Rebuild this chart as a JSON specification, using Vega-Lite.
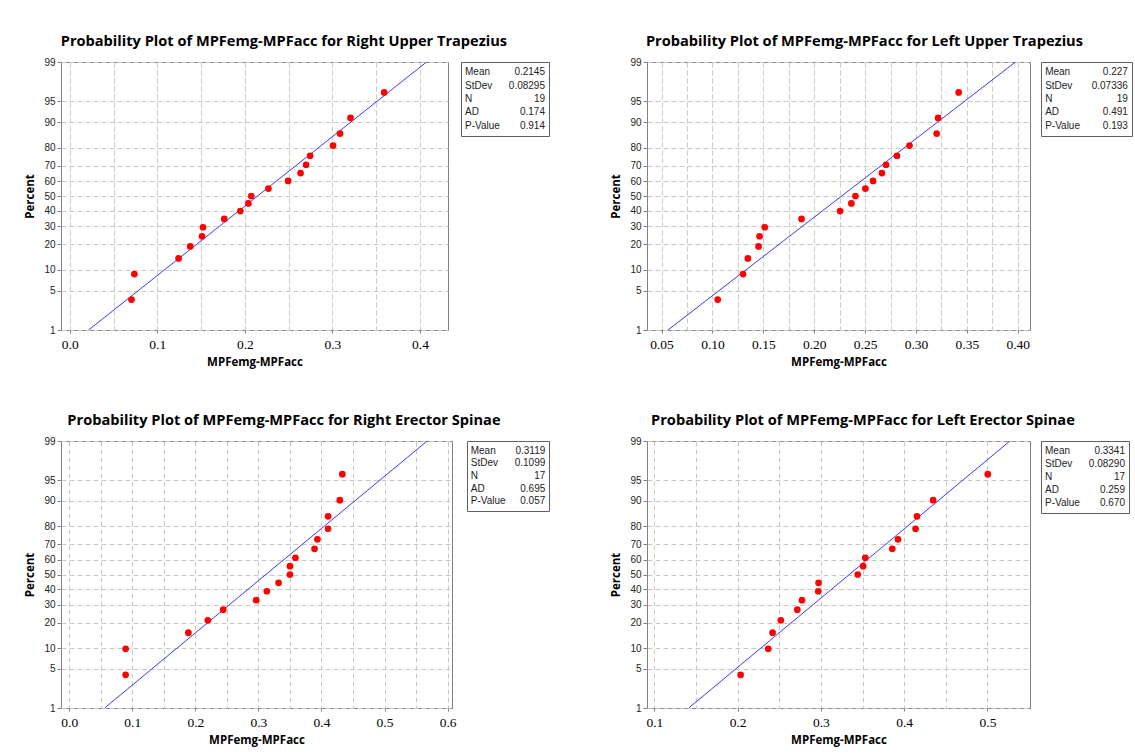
{
  "$schema": "https://vega.github.io/schema/vega-lite/v6.json",
  "background": "white",
  "padding": {"left": 24, "top": 33, "right": 0, "bottom": 0},
  "datasets": {
    "pts": [
      {"panel": "RUT", "diff": 0.0705, "pct": 3.61, "z": -1.7985},
      {"panel": "RUT", "diff": 0.0738, "pct": 8.76, "z": -1.3555},
      {"panel": "RUT", "diff": 0.1243, "pct": 13.92, "z": -1.0840},
      {"panel": "RUT", "diff": 0.1376, "pct": 19.07, "z": -0.8753},
      {"panel": "RUT", "diff": 0.1510, "pct": 24.23, "z": -0.6990},
      {"panel": "RUT", "diff": 0.1522, "pct": 29.38, "z": -0.5423},
      {"panel": "RUT", "diff": 0.1764, "pct": 34.54, "z": -0.3979},
      {"panel": "RUT", "diff": 0.1948, "pct": 39.69, "z": -0.2614},
      {"panel": "RUT", "diff": 0.2040, "pct": 44.85, "z": -0.1296},
      {"panel": "RUT", "diff": 0.2073, "pct": 50.0, "z": 0},
      {"panel": "RUT", "diff": 0.2269, "pct": 55.15, "z": 0.1296},
      {"panel": "RUT", "diff": 0.2494, "pct": 60.31, "z": 0.2614},
      {"panel": "RUT", "diff": 0.2636, "pct": 65.46, "z": 0.3979},
      {"panel": "RUT", "diff": 0.2699, "pct": 70.62, "z": 0.5423},
      {"panel": "RUT", "diff": 0.2745, "pct": 75.77, "z": 0.6990},
      {"panel": "RUT", "diff": 0.3007, "pct": 80.93, "z": 0.8753},
      {"panel": "RUT", "diff": 0.3087, "pct": 86.08, "z": 1.0840},
      {"panel": "RUT", "diff": 0.3207, "pct": 91.24, "z": 1.3555},
      {"panel": "RUT", "diff": 0.3591, "pct": 96.39, "z": 1.7985},
      {"panel": "LUT", "diff": 0.1052, "pct": 3.61, "z": -1.7985},
      {"panel": "LUT", "diff": 0.1301, "pct": 8.76, "z": -1.3555},
      {"panel": "LUT", "diff": 0.1348, "pct": 13.92, "z": -1.0840},
      {"panel": "LUT", "diff": 0.1453, "pct": 19.07, "z": -0.8753},
      {"panel": "LUT", "diff": 0.1463, "pct": 24.23, "z": -0.6990},
      {"panel": "LUT", "diff": 0.1514, "pct": 29.38, "z": -0.5423},
      {"panel": "LUT", "diff": 0.1875, "pct": 34.54, "z": -0.3979},
      {"panel": "LUT", "diff": 0.2254, "pct": 39.69, "z": -0.2614},
      {"panel": "LUT", "diff": 0.2365, "pct": 44.85, "z": -0.1296},
      {"panel": "LUT", "diff": 0.2405, "pct": 50.0, "z": 0},
      {"panel": "LUT", "diff": 0.2503, "pct": 55.15, "z": 0.1296},
      {"panel": "LUT", "diff": 0.2578, "pct": 60.31, "z": 0.2614},
      {"panel": "LUT", "diff": 0.2665, "pct": 65.46, "z": 0.3979},
      {"panel": "LUT", "diff": 0.2705, "pct": 70.62, "z": 0.5423},
      {"panel": "LUT", "diff": 0.2813, "pct": 75.77, "z": 0.6990},
      {"panel": "LUT", "diff": 0.2936, "pct": 80.93, "z": 0.8753},
      {"panel": "LUT", "diff": 0.3203, "pct": 86.08, "z": 1.0840},
      {"panel": "LUT", "diff": 0.3217, "pct": 91.24, "z": 1.3555},
      {"panel": "LUT", "diff": 0.3419, "pct": 96.39, "z": 1.7985},
      {"panel": "RES", "diff": 0.0895, "pct": 4.02, "z": -1.7480},
      {"panel": "RES", "diff": 0.0895, "pct": 9.77, "z": -1.2948},
      {"panel": "RES", "diff": 0.1890, "pct": 15.52, "z": -1.0145},
      {"panel": "RES", "diff": 0.2198, "pct": 21.26, "z": -0.7973},
      {"panel": "RES", "diff": 0.2442, "pct": 27.01, "z": -0.6125},
      {"panel": "RES", "diff": 0.2965, "pct": 32.76, "z": -0.4466},
      {"panel": "RES", "diff": 0.3134, "pct": 38.51, "z": -0.2922},
      {"panel": "RES", "diff": 0.3320, "pct": 44.25, "z": -0.1446},
      {"panel": "RES", "diff": 0.3500, "pct": 50.0, "z": 0},
      {"panel": "RES", "diff": 0.3500, "pct": 55.75, "z": 0.1446},
      {"panel": "RES", "diff": 0.3587, "pct": 61.49, "z": 0.2922},
      {"panel": "RES", "diff": 0.3890, "pct": 67.24, "z": 0.4466},
      {"panel": "RES", "diff": 0.3936, "pct": 72.99, "z": 0.6125},
      {"panel": "RES", "diff": 0.4105, "pct": 78.74, "z": 0.7973},
      {"panel": "RES", "diff": 0.4105, "pct": 84.48, "z": 1.0145},
      {"panel": "RES", "diff": 0.4291, "pct": 90.23, "z": 1.2948},
      {"panel": "RES", "diff": 0.4331, "pct": 95.98, "z": 1.7480},
      {"panel": "LES", "diff": 0.2036, "pct": 4.02, "z": -1.7480},
      {"panel": "LES", "diff": 0.2368, "pct": 9.77, "z": -1.2948},
      {"panel": "LES", "diff": 0.2420, "pct": 15.52, "z": -1.0145},
      {"panel": "LES", "diff": 0.2519, "pct": 21.26, "z": -0.7973},
      {"panel": "LES", "diff": 0.2717, "pct": 27.01, "z": -0.6125},
      {"panel": "LES", "diff": 0.2773, "pct": 32.76, "z": -0.4466},
      {"panel": "LES", "diff": 0.2968, "pct": 38.51, "z": -0.2922},
      {"panel": "LES", "diff": 0.2972, "pct": 44.25, "z": -0.1446},
      {"panel": "LES", "diff": 0.3442, "pct": 50.0, "z": 0},
      {"panel": "LES", "diff": 0.3507, "pct": 55.75, "z": 0.1446},
      {"panel": "LES", "diff": 0.3533, "pct": 61.49, "z": 0.2922},
      {"panel": "LES", "diff": 0.3857, "pct": 67.24, "z": 0.4466},
      {"panel": "LES", "diff": 0.3926, "pct": 72.99, "z": 0.6125},
      {"panel": "LES", "diff": 0.4137, "pct": 78.74, "z": 0.7973},
      {"panel": "LES", "diff": 0.4154, "pct": 84.48, "z": 1.0145},
      {"panel": "LES", "diff": 0.4348, "pct": 90.23, "z": 1.2948},
      {"panel": "LES", "diff": 0.5004, "pct": 95.98, "z": 1.7480}
    ],
    "fit": [
      {"panel": "RUT", "diff": 0.0215, "pct": 1, "z": -2.326348},
      {"panel": "RUT", "diff": 0.4075, "pct": 99, "z": 2.326348},
      {"panel": "LUT", "diff": 0.0563, "pct": 1, "z": -2.326348},
      {"panel": "LUT", "diff": 0.3977, "pct": 99, "z": 2.326348},
      {"panel": "RES", "diff": 0.0562, "pct": 1, "z": -2.326348},
      {"panel": "RES", "diff": 0.5676, "pct": 99, "z": 2.326348},
      {"panel": "LES", "diff": 0.1413, "pct": 1, "z": -2.326348},
      {"panel": "LES", "diff": 0.5270, "pct": 99, "z": 2.326348}
    ],
    "stats": [
      {"panel": "RUT", "i": 1, "label": "Mean", "value": "0.2145"},
      {"panel": "RUT", "i": 2, "label": "StDev", "value": "0.08295"},
      {"panel": "RUT", "i": 3, "label": "N", "value": "19"},
      {"panel": "RUT", "i": 4, "label": "AD", "value": "0.174"},
      {"panel": "RUT", "i": 5, "label": "P-Value", "value": "0.914"},
      {"panel": "LUT", "i": 1, "label": "Mean", "value": "0.227"},
      {"panel": "LUT", "i": 2, "label": "StDev", "value": "0.07336"},
      {"panel": "LUT", "i": 3, "label": "N", "value": "19"},
      {"panel": "LUT", "i": 4, "label": "AD", "value": "0.491"},
      {"panel": "LUT", "i": 5, "label": "P-Value", "value": "0.193"},
      {"panel": "RES", "i": 1, "label": "Mean", "value": "0.3119"},
      {"panel": "RES", "i": 2, "label": "StDev", "value": "0.1099"},
      {"panel": "RES", "i": 3, "label": "N", "value": "17"},
      {"panel": "RES", "i": 4, "label": "AD", "value": "0.695"},
      {"panel": "RES", "i": 5, "label": "P-Value", "value": "0.057"},
      {"panel": "LES", "i": 1, "label": "Mean", "value": "0.3341"},
      {"panel": "LES", "i": 2, "label": "StDev", "value": "0.08290"},
      {"panel": "LES", "i": 3, "label": "N", "value": "17"},
      {"panel": "LES", "i": 4, "label": "AD", "value": "0.259"},
      {"panel": "LES", "i": 5, "label": "P-Value", "value": "0.670"}
    ]
  },
  "config": {
    "view": {"stroke": "#808080", "strokeWidth": 1},
    "axis": {
      "grid": true, "gridColor": "#c8c8c8", "gridDash": [5, 3], "gridWidth": 1,
      "domain": false, "tickColor": "#808080", "labelColor": "#000000", "titleColor": "#000000",
      "titleFont": "Open Sans", "titleFontWeight": "bold", "titleFontSize": 11.5,
      "labelFlush": false, "labelOverlap": false
    },
    "axisX": {"labelFont": "Liberation Serif", "labelFontSize": 13.5, "labelPadding": 4, "titlePadding": 6, "tickSize": 3},
    "axisY": {"labelFont": "Liberation Sans", "labelFontSize": 10, "labelColor": "#222222", "labelPadding": 2, "titlePadding": 8, "tickSize": 4},
    "title": {"font": "Open Sans", "fontSize": 14.6, "fontWeight": "bold", "color": "#000000", "anchor": "middle", "offset": 8},
    "text": {"font": "Liberation Sans", "fontSize": 10, "color": "#222222"}
  },
  "spacing": 43,
  "vconcat": [
    {
      "spacing": 60,
      "hconcat": [
        {
          "title": {"text": "Probability Plot of MPFemg-MPFacc for Right Upper Trapezius", "dx": -3},
          "spacing": 11,
          "hconcat": [
            {
              "width": 387, "height": 268,
              "layer": [
                {
                  "data": {"name": "fit"},
                  "transform": [{"filter": "datum.panel === 'RUT'"}],
                  "mark": {"type": "line", "color": "#3a3aff", "strokeWidth": 1, "clip": true},
                  "encoding": {
                    "x": {"field": "diff", "type": "quantitative", "title": "MPFemg-MPFacc",
                      "scale": {"domain": [-0.010, 0.432], "nice": false, "zero": false},
                      "axis": {"tickCount": 50, "values": [0, 0.05, 0.1, 0.15, 0.2, 0.25, 0.3, 0.35, 0.4],
                        "labelExpr": "abs(datum.value*10-round(datum.value*10))<0.001 ? format(datum.value,'.1f') : ''",
                        "tickOpacity": {"condition": {"test": "abs(datum.value*10-round(datum.value*10))<0.001", "value": 1}, "value": 0}}},
                    "y": {"field": "z", "type": "quantitative", "title": "Percent",
                      "scale": {"domain": [-2.326348, 2.326348], "nice": false, "zero": false},
                      "axis": {"tickCount": 50, "values": [-2.326348, -1.644854, -1.281552, -0.841621, -0.524401, -0.253347, 0, 0.253347, 0.524401, 0.841621, 1.281552, 1.644854, 2.326348],
                        "labelExpr": "format(cumulativeNormal(datum.value)*100,'.0f')"}}
                  }
                },
                {
                  "data": {"name": "pts"},
                  "transform": [{"filter": "datum.panel === 'RUT'"}],
                  "mark": {"type": "circle", "size": 45, "color": "#ff0000", "opacity": 1},
                  "encoding": {
                    "x": {"field": "diff", "type": "quantitative", "title": "MPFemg-MPFacc"},
                    "y": {"field": "z", "type": "quantitative", "title": "Percent"}
                  }
                }
              ]
            },
            {
              "width": 88, "height": 74,
              "view": {"stroke": "#606060"},
              "data": {"name": "stats"},
              "transform": [{"filter": "datum.panel === 'RUT'"}],
              "encoding": {"y": {"field": "i", "type": "ordinal", "axis": null, "scale": {"type": "point", "padding": 0.75}}},
              "layer": [
                {"mark": {"type": "text", "align": "left", "baseline": "middle"},
                 "encoding": {"x": {"datum": 0, "type": "quantitative", "axis": null, "scale": {"domain": [-0.05, 1.05], "nice": false, "zero": false}}, "text": {"field": "label"}}},
                {"mark": {"type": "text", "align": "right", "baseline": "middle"},
                 "encoding": {"x": {"datum": 1, "type": "quantitative", "axis": null}, "text": {"field": "value"}}}
              ]
            }
          ]
        },
        {
          "title": {"text": "Probability Plot of MPFemg-MPFacc for Left Upper Trapezius", "dx": -7},
          "spacing": 9,
          "hconcat": [
            {
              "width": 383, "height": 268,
              "layer": [
                {
                  "data": {"name": "fit"},
                  "transform": [{"filter": "datum.panel === 'LUT'"}],
                  "mark": {"type": "line", "color": "#3a3aff", "strokeWidth": 1, "clip": true},
                  "encoding": {
                    "x": {"field": "diff", "type": "quantitative", "title": "MPFemg-MPFacc",
                      "scale": {"domain": [0.0357, 0.412], "nice": false, "zero": false},
                      "axis": {"tickCount": 50, "values": [0.05, 0.075, 0.1, 0.125, 0.15, 0.175, 0.2, 0.225, 0.25, 0.275, 0.3, 0.325, 0.35, 0.375, 0.4],
                        "labelExpr": "abs(datum.value*20-round(datum.value*20))<0.001 ? format(datum.value,'.2f') : ''",
                        "tickOpacity": {"condition": {"test": "abs(datum.value*20-round(datum.value*20))<0.001", "value": 1}, "value": 0}}},
                    "y": {"field": "z", "type": "quantitative", "title": "Percent",
                      "scale": {"domain": [-2.326348, 2.326348], "nice": false, "zero": false},
                      "axis": {"tickCount": 50, "values": [-2.326348, -1.644854, -1.281552, -0.841621, -0.524401, -0.253347, 0, 0.253347, 0.524401, 0.841621, 1.281552, 1.644854, 2.326348],
                        "labelExpr": "format(cumulativeNormal(datum.value)*100,'.0f')"}}
                  }
                },
                {
                  "data": {"name": "pts"},
                  "transform": [{"filter": "datum.panel === 'LUT'"}],
                  "mark": {"type": "circle", "size": 45, "color": "#ff0000", "opacity": 1},
                  "encoding": {
                    "x": {"field": "diff", "type": "quantitative", "title": "MPFemg-MPFacc"},
                    "y": {"field": "z", "type": "quantitative", "title": "Percent"}
                  }
                }
              ]
            },
            {
              "width": 91, "height": 74,
              "view": {"stroke": "#606060"},
              "data": {"name": "stats"},
              "transform": [{"filter": "datum.panel === 'LUT'"}],
              "encoding": {"y": {"field": "i", "type": "ordinal", "axis": null, "scale": {"type": "point", "padding": 0.75}}},
              "layer": [
                {"mark": {"type": "text", "align": "left", "baseline": "middle"},
                 "encoding": {"x": {"datum": 0, "type": "quantitative", "axis": null, "scale": {"domain": [-0.05, 1.05], "nice": false, "zero": false}}, "text": {"field": "label"}}},
                {"mark": {"type": "text", "align": "right", "baseline": "middle"},
                 "encoding": {"x": {"datum": 1, "type": "quantitative", "axis": null}, "text": {"field": "value"}}}
              ]
            }
          ]
        }
      ]
    },
    {
      "spacing": 60,
      "hconcat": [
        {
          "title": {"text": "Probability Plot of MPFemg-MPFacc for Right Erector Spinae", "dx": -3},
          "spacing": 9,
          "hconcat": [
            {
              "width": 391, "height": 267,
              "layer": [
                {
                  "data": {"name": "fit"},
                  "transform": [{"filter": "datum.panel === 'RES'"}],
                  "mark": {"type": "line", "color": "#3a3aff", "strokeWidth": 1, "clip": true},
                  "encoding": {
                    "x": {"field": "diff", "type": "quantitative", "title": "MPFemg-MPFacc",
                      "scale": {"domain": [-0.013, 0.607], "nice": false, "zero": false},
                      "axis": {"tickCount": 50, "values": [0, 0.05, 0.1, 0.15, 0.2, 0.25, 0.3, 0.35, 0.4, 0.45, 0.5, 0.55, 0.6],
                        "labelExpr": "abs(datum.value*10-round(datum.value*10))<0.001 ? format(datum.value,'.1f') : ''",
                        "tickOpacity": {"condition": {"test": "abs(datum.value*10-round(datum.value*10))<0.001", "value": 1}, "value": 0}}},
                    "y": {"field": "z", "type": "quantitative", "title": "Percent",
                      "scale": {"domain": [-2.326348, 2.326348], "nice": false, "zero": false},
                      "axis": {"tickCount": 50, "values": [-2.326348, -1.644854, -1.281552, -0.841621, -0.524401, -0.253347, 0, 0.253347, 0.524401, 0.841621, 1.281552, 1.644854, 2.326348],
                        "labelExpr": "format(cumulativeNormal(datum.value)*100,'.0f')"}}
                  }
                },
                {
                  "data": {"name": "pts"},
                  "transform": [{"filter": "datum.panel === 'RES'"}],
                  "mark": {"type": "circle", "size": 45, "color": "#ff0000", "opacity": 1},
                  "encoding": {
                    "x": {"field": "diff", "type": "quantitative", "title": "MPFemg-MPFacc"},
                    "y": {"field": "z", "type": "quantitative", "title": "Percent"}
                  }
                }
              ]
            },
            {
              "width": 82, "height": 70,
              "view": {"stroke": "#606060"},
              "data": {"name": "stats"},
              "transform": [{"filter": "datum.panel === 'RES'"}],
              "encoding": {"y": {"field": "i", "type": "ordinal", "axis": null, "scale": {"type": "point", "padding": 0.75}}},
              "layer": [
                {"mark": {"type": "text", "align": "left", "baseline": "middle"},
                 "encoding": {"x": {"datum": 0, "type": "quantitative", "axis": null, "scale": {"domain": [-0.05, 1.05], "nice": false, "zero": false}}, "text": {"field": "label"}}},
                {"mark": {"type": "text", "align": "right", "baseline": "middle"},
                 "encoding": {"x": {"datum": 1, "type": "quantitative", "axis": null}, "text": {"field": "value"}}}
              ]
            }
          ]
        },
        {
          "title": {"text": "Probability Plot of MPFemg-MPFacc for Left Erector Spinae", "dx": -7},
          "spacing": 9,
          "hconcat": [
            {
              "width": 383, "height": 267,
              "layer": [
                {
                  "data": {"name": "fit"},
                  "transform": [{"filter": "datum.panel === 'LES'"}],
                  "mark": {"type": "line", "color": "#3a3aff", "strokeWidth": 1, "clip": true},
                  "encoding": {
                    "x": {"field": "diff", "type": "quantitative", "title": "MPFemg-MPFacc",
                      "scale": {"domain": [0.0912, 0.5511], "nice": false, "zero": false},
                      "axis": {"tickCount": 50, "values": [0.1, 0.15, 0.2, 0.25, 0.3, 0.35, 0.4, 0.45, 0.5],
                        "labelExpr": "abs(datum.value*10-round(datum.value*10))<0.001 ? format(datum.value,'.1f') : ''",
                        "tickOpacity": {"condition": {"test": "abs(datum.value*10-round(datum.value*10))<0.001", "value": 1}, "value": 0}}},
                    "y": {"field": "z", "type": "quantitative", "title": "Percent",
                      "scale": {"domain": [-2.326348, 2.326348], "nice": false, "zero": false},
                      "axis": {"tickCount": 50, "values": [-2.326348, -1.644854, -1.281552, -0.841621, -0.524401, -0.253347, 0, 0.253347, 0.524401, 0.841621, 1.281552, 1.644854, 2.326348],
                        "labelExpr": "format(cumulativeNormal(datum.value)*100,'.0f')"}}
                  }
                },
                {
                  "data": {"name": "pts"},
                  "transform": [{"filter": "datum.panel === 'LES'"}],
                  "mark": {"type": "circle", "size": 45, "color": "#ff0000", "opacity": 1},
                  "encoding": {
                    "x": {"field": "diff", "type": "quantitative", "title": "MPFemg-MPFacc"},
                    "y": {"field": "z", "type": "quantitative", "title": "Percent"}
                  }
                }
              ]
            },
            {
              "width": 88, "height": 72,
              "view": {"stroke": "#606060"},
              "data": {"name": "stats"},
              "transform": [{"filter": "datum.panel === 'LES'"}],
              "encoding": {"y": {"field": "i", "type": "ordinal", "axis": null, "scale": {"type": "point", "padding": 0.75}}},
              "layer": [
                {"mark": {"type": "text", "align": "left", "baseline": "middle"},
                 "encoding": {"x": {"datum": 0, "type": "quantitative", "axis": null, "scale": {"domain": [-0.05, 1.05], "nice": false, "zero": false}}, "text": {"field": "label"}}},
                {"mark": {"type": "text", "align": "right", "baseline": "middle"},
                 "encoding": {"x": {"datum": 1, "type": "quantitative", "axis": null}, "text": {"field": "value"}}}
              ]
            }
          ]
        }
      ]
    }
  ]
}
